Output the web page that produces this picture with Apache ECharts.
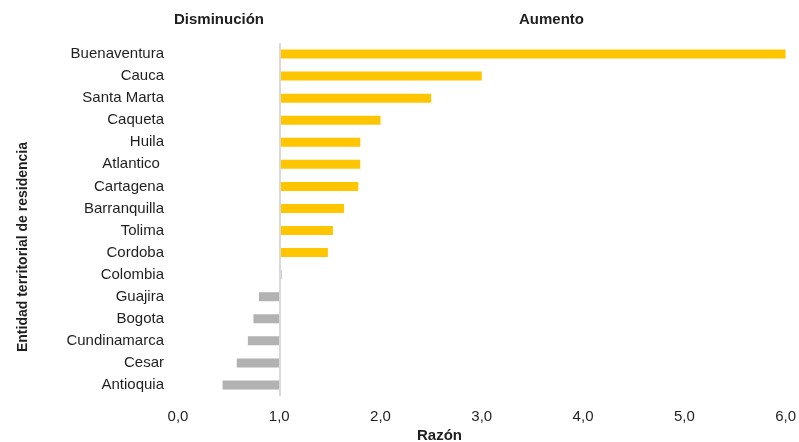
<!DOCTYPE html>
<html>
<head>
<meta charset="utf-8">
<script src="https://cdn.jsdelivr.net/npm/echarts@6/dist/echarts.min.js"></script>
<style>
  html, body { margin: 0; padding: 0; background: #fff; overflow: hidden; }
  #chart { width: 799px; height: 442px; }
</style>
</head>
<body>
<div id="chart"></div>
<script>
// Razón por entidad territorial de residencia (línea de referencia en 1,0)
const categories = [
  'Buenaventura', 'Cauca', 'Santa Marta', 'Caqueta', 'Huila', 'Atlantico ',
  'Cartagena', 'Barranquilla', 'Tolima', 'Cordoba', 'Colombia',
  'Guajira', 'Bogota', 'Cundinamarca', 'Cesar', 'Antioquia'
];
const ratios = [6.0, 3.0, 2.5, 2.0, 1.8, 1.8, 1.78, 1.64, 1.53, 1.48, 1.02,
                0.8, 0.745, 0.69, 0.58, 0.44];
const reference = 1.0;
const xTicks = { min: 0, max: 6, interval: 1 };

const FONT = '"Liberation Sans", Arial, sans-serif';
const TEXT = '#1F1F1F';
const UP = '#FFC600';
const DOWN = '#B2B2B2';
const NATIONAL = '#595959';

// Bars run from the reference value to each ratio: an invisible base plus a visible span.
const baseData = ratios.map(v => Math.min(v, reference));
const spanData = ratios.map((v, i) => ({
  value: Math.abs(v - reference),
  itemStyle: {
    color: categories[i] === 'Colombia' ? NATIONAL : (v >= reference ? UP : DOWN)
  }
}));

const chart = echarts.init(document.getElementById('chart'), null, { renderer: 'canvas' });
chart.setOption({
  animation: false,
  grid: { left: 178, right: 10, top: 43, bottom: 46, containLabel: false },
  xAxis: {
    type: 'value',
    min: xTicks.min, max: xTicks.max, interval: xTicks.interval,
    axisLine: { show: false },
    axisTick: { show: false },
    splitLine: { show: false },
    axisLabel: {
      color: TEXT, fontFamily: FONT, fontSize: 15, margin: 13,
      formatter: v => v.toFixed(1).replace('.', ',')
    }
  },
  yAxis: {
    type: 'category',
    data: categories,
    inverse: true,
    axisLine: { show: false },
    axisTick: { show: false },
    axisLabel: { color: TEXT, fontFamily: FONT, fontSize: 15, margin: 14 }
  },
  series: [
    {
      name: 'base',
      type: 'bar',
      stack: 'r',
      data: baseData,
      barWidth: 9,
      itemStyle: { color: 'transparent' },
      silent: true,
      markLine: {
        symbol: 'none',
        silent: true,
        label: { show: false },
        lineStyle: { color: '#D9D9D9', width: 2, type: 'solid' },
        data: [{ xAxis: reference }]
      }
    },
    {
      name: 'Razón',
      type: 'bar',
      stack: 'r',
      data: spanData,
      barWidth: 9,
      z: 3
    }
  ],
  graphic: [
    {
      type: 'text', left: 174, top: 12,
      style: { text: 'Disminución', font: 'bold 15px ' + FONT, fill: TEXT }
    },
    {
      type: 'text', left: 519, top: 12,
      style: { text: 'Aumento', font: 'bold 15px ' + FONT, fill: TEXT }
    },
    {
      type: 'text', left: 417, top: 428,
      style: { text: 'Razón', font: 'bold 15px ' + FONT, fill: TEXT }
    },
    {
      type: 'text', x: 23, y: 247, rotation: Math.PI / 2,
      style: {
        text: 'Entidad territorial de residencia', font: 'bold 14px ' + FONT,
        fill: TEXT, align: 'center', verticalAlign: 'middle'
      }
    }
  ]
});
</script>
</body>
</html>
